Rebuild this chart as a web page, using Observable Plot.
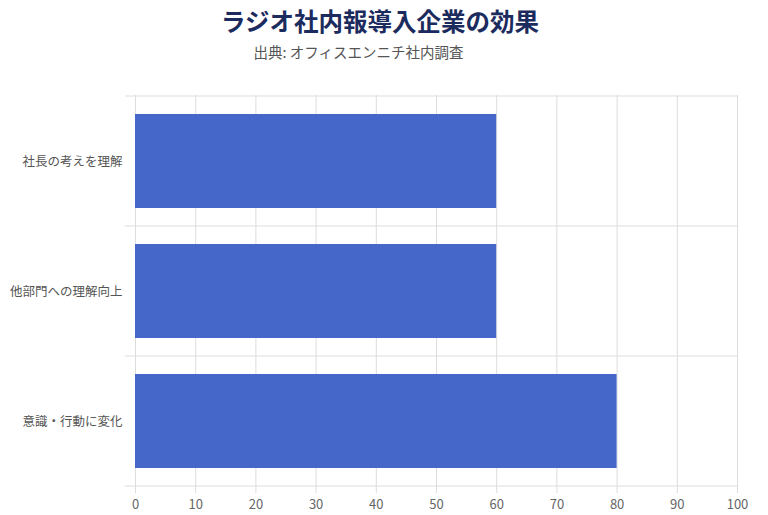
<!DOCTYPE html>
<html>
<head>
<meta charset="utf-8">
<script src="https://cdn.jsdelivr.net/npm/d3@7"></script>
<script src="https://cdn.jsdelivr.net/npm/@observablehq/plot@0.6"></script>
<style>
  html, body { margin: 0; padding: 0; background: #ffffff; }
  body { width: 768px; height: 515px; overflow: hidden; font-family: "Noto Sans CJK JP", "Noto Sans", sans-serif; }
  #head { position: relative; height: 80px; }
  #title { position: absolute; left: 0; width: 760px; top: 4px; text-align: center; font-size: 24.5px; font-weight: 700; color: #1c2b5e; line-height: 34px; }
  #subtitle { position: absolute; left: 0; width: 717px; top: 41px; text-align: center; font-size: 14.5px; color: #555555; line-height: 22px; }
  #chart svg { display: block; }
</style>
</head>
<body>
<div id="head">
  <div id="title">ラジオ社内報導入企業の効果</div>
  <div id="subtitle">出典: オフィスエンニチ社内調査</div>
</div>
<div id="chart"></div>
<script>
const categories = ["社長の考えを理解", "他部門への理解向上", "意識・行動に変化"];
const values = [60, 60, 80];
const xTicks = [0, 10, 20, 30, 40, 50, 60, 70, 80, 90, 100];

const data = categories.map((c, i) => ({category: c, value: values[i]}));
const bandPadding = 0.28;
const gridColor = "#dddddd";

// horizontal separators at band boundaries, derived from the y band scale
const bandLines = (index, scales, values, dimensions) => {
  const y = scales.y;
  const g = d3.create("svg:g");
  const step = categories.length > 1 ? y(categories[1]) - y(categories[0]) : (dimensions.height - dimensions.marginTop - dimensions.marginBottom);
  const bw = y.bandwidth ? y.bandwidth() : step * (1 - bandPadding);
  const gap = (step - bw) / 2;
  const ys = categories.map(c => y(c) - gap);
  ys.push(y(categories[categories.length - 1]) + bw + gap);
  const x0 = dimensions.marginLeft - 10;
  const x1 = dimensions.width - dimensions.marginRight;
  for (const v of ys) {
    g.append("line")
      .attr("x1", x0).attr("x2", x1)
      .attr("y1", v).attr("y2", v)
      .attr("stroke", gridColor).attr("stroke-width", 1);
  }
  return g.node();
};

const chart = Plot.plot({
  width: 768,
  height: 435,
  marginTop: 15,
  marginBottom: 28,
  marginLeft: 135,
  marginRight: 31,
  style: {fontFamily: "'Noto Sans CJK JP', 'Noto Sans', sans-serif", background: "transparent"},
  x: {domain: [0, 100], ticks: xTicks, label: null},
  y: {domain: categories, paddingInner: bandPadding, paddingOuter: bandPadding / 2, align: 0.5, label: null},
  marks: [
    Plot.ruleX(xTicks, {stroke: gridColor, strokeWidth: 1, strokeOpacity: 1}),
    bandLines,
    Plot.barX(data, {x: "value", y: "category", fill: "#4567c9"}),
    Plot.axisX({ticks: xTicks, tickSize: 6, tickPadding: 6, stroke: gridColor, strokeOpacity: 1, fill: "#666666", fontSize: 13, label: null}),
    Plot.axisY({tickSize: 0, tickPadding: 13, fill: "#555555", fontSize: 12.5, label: null})
  ]
});
document.getElementById("chart").appendChild(chart);
</script>
</body>
</html>
